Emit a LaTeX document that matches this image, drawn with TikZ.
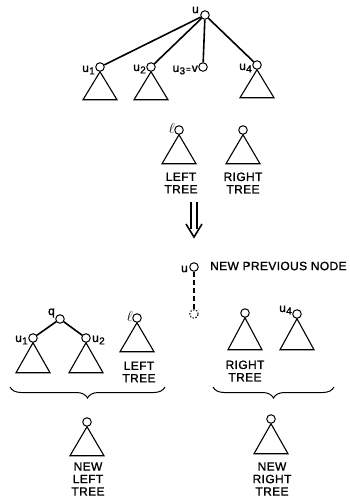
\documentclass[tikz,border=0pt]{standalone}
\usepackage{fontspec}
\setmainfont{Liberation Sans}
\newfontfamily\lblfont[LetterSpace=3,FakeBold=1.2]{Liberation Sans}
\usetikzlibrary{decorations.pathreplacing}
\newcommand\usub[2]{#1\kern0.3pt\raisebox{-2.4pt}{\fontsize{10}{10}\selectfont #2}}
\newcommand\ellsym{{\fontsize{15}{15}\selectfont$\ell$}}
\newcommand\trinode[2][29]{\draw[tri] (#2.south) -- ++(-17,#1) -- ++(34,0) -- cycle;}
\tikzset{
  vert/.style={circle,draw,line width=1pt,minimum size=8.5pt,inner sep=0pt},
  dvert/.style={vert,dash pattern=on 1.5pt off 1.5pt},
  tri/.style={line width=1.1pt,line join=miter},
  edge/.style={line width=1.6pt},
  lbl/.style={inner sep=0pt,font=\lblfont\fontsize{12}{12.5}\selectfont},
  caption/.style={lbl,align=center},
  arrowline/.style={line width=1.6pt},
  bracestyle/.style={line width=1pt,decorate,decoration={brace,mirror,amplitude=11pt}}
}
\begin{document}
\begin{tikzpicture}[x=1pt,y=-1pt]
\useasboundingbox (0,0) rectangle (350,501);
% top tree
\node[vert] (u) at (205,15) {};
\node[lbl,anchor=east] (lu) at (199,10) {u};
\node[vert] (u1) at (100,67) {};
\node[vert] (u2) at (151,67) {};
\node[vert] (u3) at (203,67) {};
\node[vert] (u4) at (257,65) {};
\node[lbl,anchor=east] (lu1) at (95,70) {\usub{u}{1}};
\node[lbl,anchor=east] (lu2) at (146,69) {\usub{u}{2}};
\node[lbl,anchor=east] (lu3) at (198,70) {\usub{u}{3}\kern1pt{\fontsize{8}{8}\selectfont =}\kern1pt v};
\node[lbl,anchor=east] (lu4) at (252,68) {\usub{u}{4}};
\draw[edge] (u) -- (u1);
\draw[edge] (u) -- (u2);
\draw[edge] (u) -- (u3);
\draw[edge] (u) -- (u4);
\trinode[28]{u1}
\trinode[28]{u2}
\trinode[28]{u4}
% left / right tree
\node[vert] (l) at (179,130) {};
\node[lbl,anchor=east] (ll) at (175,128) {\ellsym};
\trinode{l}
\node[vert] (r) at (243,130) {};
\trinode{r}
\node[caption] (lt) at (181,183) {LEFT\\TREE};
\node[caption] (rt) at (243,183) {RIGHT\\TREE};
% double arrow
\coordinate (a1l) at (191,202);
\coordinate (a1r) at (197,202);
\coordinate (a2l) at (191,229);
\coordinate (a2r) at (197,229);
\coordinate (hl) at (186,224);
\coordinate (ht) at (194,237);
\coordinate (hr) at (202,224);
\draw[arrowline] (a1l) -- (a2l);
\draw[arrowline] (a1r) -- (a2r);
\draw[arrowline,line join=miter] (hl) -- (ht) -- (hr);
% new previous node
\node[vert] (np) at (194,267) {};
\node[lbl,anchor=east] (lnp) at (188,269) {u};
\node[lbl,anchor=west] (tnp) at (210,266) {NEW PREVIOUS NODE};
\node[dvert] (dv) at (194,314) {};
\draw[line width=1.3pt,dash pattern=on 5pt off 3pt] (np) -- (dv);
% lower right
\node[vert] (rr) at (245,313) {};
\trinode[32]{rr}
\node[vert] (ru4) at (297,314) {};
\trinode[31]{ru4}
\node[lbl,anchor=east] (lru4) at (292,310) {\usub{u}{4}};
\node[caption] (rrt) at (245,371) {RIGHT\\TREE};
% lower left
\node[vert] (q) at (60,319) {};
\node[lbl,anchor=east] (lq) at (55,313) {q};
\node[vert] (lu1n) at (33,338) {};
\node[vert] (lu2n) at (86,338) {};
\node[lbl,anchor=east] (llu1) at (28,340) {\usub{u}{1}};
\node[lbl,anchor=west] (llu2) at (92,340) {\usub{u}{2}};
\draw[edge] (q) -- (lu1n);
\draw[edge] (q) -- (lu2n);
\trinode[30]{lu1n}
\trinode[30]{lu2n}
\node[vert] (ll2) at (137,318) {};
\node[lbl,anchor=east] (lll2) at (133,316) {\ellsym};
\trinode[29]{ll2}
\node[caption] (llt) at (139,372) {LEFT\\TREE};
% braces
\coordinate (b1a) at (10,387);
\coordinate (b1b) at (165,387);
\draw[bracestyle] (b1a) -- (b1b);
\coordinate (b2a) at (213,387);
\coordinate (b2b) at (334,387);
\draw[bracestyle] (b2a) -- (b2b);
% new trees
\node[vert] (nl) at (87,422) {};
\trinode[29]{nl}
\node[caption] (nlt) at (88,479) {NEW\\LEFT\\TREE};
\node[vert] (nr) at (271,419) {};
\trinode[30]{nr}
\node[caption] (nrt) at (272,479) {NEW\\RIGHT\\TREE};
\end{tikzpicture}
\end{document}
